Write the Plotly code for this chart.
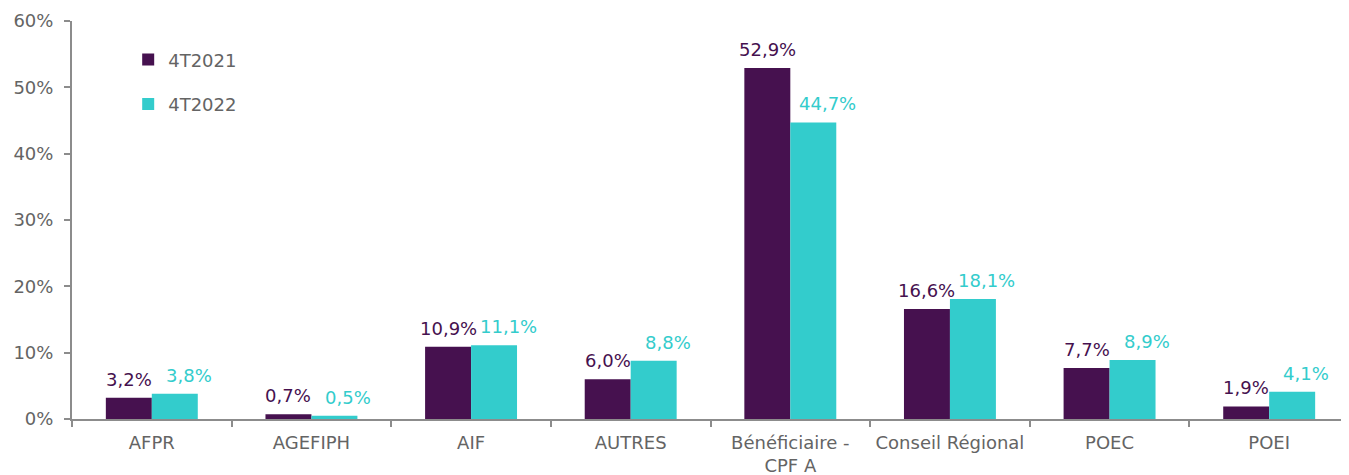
import plotly.graph_objects as go

categories = ["AFPR", "AGEFIPH", "AIF", "AUTRES", "Bénéficiaire -<br>CPF A",
              "Conseil Régional", "POEC", "POEI"]
series_2021 = [3.2, 0.7, 10.9, 6.0, 52.9, 16.6, 7.7, 1.9]
series_2022 = [3.8, 0.5, 11.1, 8.8, 44.7, 18.1, 8.9, 4.1]
names = ["4T2021", "4T2022"]
colors = ["#46114F", "#33CCCC"]

FONT = "DejaVu Sans"
GRAY = "#646464"
AXIS = "#8C8C8C"

fig = go.Figure()
for i, (name, vals, col) in enumerate(zip(names, [series_2021, series_2022], colors)):
    fig.add_trace(go.Bar(
        x=categories, y=vals, name=name, marker=dict(color=col, line=dict(width=0)),
        legendgroup=name,
    ))

annotations = []
for i, (vals, col, xs) in enumerate(zip([series_2021, series_2022], colors, [-23, 37])):
    for c, v in zip(categories, vals):
        annotations.append(dict(
            x=c, y=v, xref="x", yref="y", text=f"{v:.1f}%".replace(".", ","),
            showarrow=False, xanchor="center", yanchor="bottom", xshift=xs, yshift=6,
            font=dict(family=FONT, size=18, color=col),
        ))

fig.update_layout(
    width=1341, height=467,
    margin=dict(l=64, r=0, t=13, b=56),
    plot_bgcolor="white", paper_bgcolor="white",
    barmode="group", bargap=0.424, bargroupgap=0,
    font=dict(family=FONT, size=18, color=GRAY),
    showlegend=True,
    legend=dict(x=0.044, y=0.949, xanchor="left", yanchor="top",
                font=dict(family=FONT, size=18, color=GRAY),
                traceorder="grouped", tracegroupgap=18, bgcolor="rgba(0,0,0,0)",
                itemwidth=30),
    annotations=annotations,
    xaxis=dict(type="category", showline=True, linecolor=AXIS, linewidth=2,
               ticks="outside", tickson="boundaries", ticklen=6, tickcolor=AXIS,
               tickwidth=2, showgrid=False, ticklabelstandoff=6,
               tickfont=dict(size=18, color=GRAY)),
    yaxis=dict(range=[0, 60], dtick=10, ticksuffix="%", showline=True,
               linecolor=AXIS, linewidth=2, ticks="outside", ticklen=6,
               tickcolor=AXIS, tickwidth=2, showgrid=False, zeroline=False,
               ticklabelstandoff=7, tickfont=dict(size=18, color=GRAY)),
)

fig.write_html("out.html")
